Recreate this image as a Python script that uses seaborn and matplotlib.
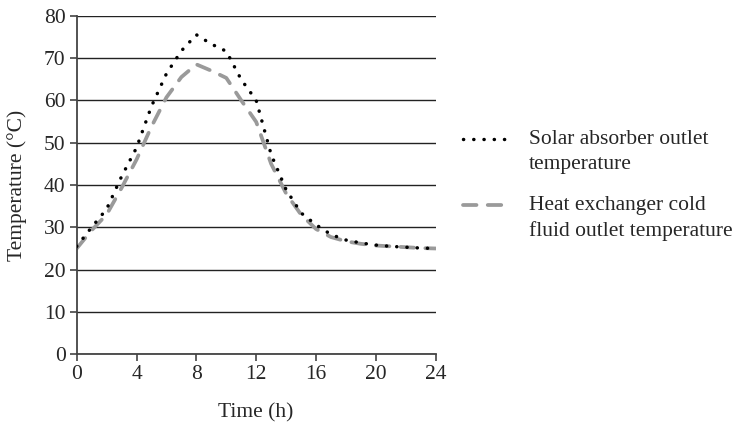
import numpy as np
import pandas as pd
from matplotlib import pyplot as plt
import seaborn as sns

# Время, ч
hours = list(range(0, 25))

# Температура на выходе солнечного абсорбера, °C
absorber_out = [25.5, 30.0, 34.3, 42.0, 48.8, 58.6, 66.3, 71.7, 75.5, 73.3,
                71.6, 64.9, 60.0, 47.2, 38.9, 33.4, 30.6, 28.3, 27.0, 26.3,
                25.8, 25.5, 25.3, 25.1, 25.0]

# Температура холодного теплоносителя на выходе теплообменника, °C
hx_cold_out = [25.0, 29.3, 33.0, 39.3, 46.0, 53.8, 60.7, 65.5, 68.5, 67.0,
               65.3, 60.0, 54.9, 45.0, 38.0, 33.0, 29.6, 27.7, 26.7, 26.1,
               25.7, 25.5, 25.3, 25.1, 25.0]

x_ticks = [0, 4, 8, 12, 16, 20, 24]
y_ticks = [0, 10, 20, 30, 40, 50, 60, 70, 80]

label_abs = 'Solar absorber outlet\ntemperature'
label_hx = 'Heat exchanger cold\nfluid outlet temperature'


def main():
    """Рисуем график"""
    sns.set_style('white')
    plt.rcParams['font.family'] = ['Liberation Serif', 'DejaVu Serif']
    fs = 15.5

    fig = plt.figure(figsize=(7.43, 4.24), dpi=100)
    ax = fig.add_axes([0.1032, 0.1644, 0.4832, 0.7986])

    ds = pd.DataFrame({'Time': hours, 'Abs': absorber_out, 'Hx': hx_cold_out})

    # сетка
    for v in y_ticks:
        ax.axhline(v, color='#222222', lw=1.0, zorder=0)

    sns.lineplot(data=ds, x='Time', y='Abs', ax=ax, color='black',
                 lw=2.5, label=label_abs, zorder=3)
    line_abs = ax.lines[-1]
    line_abs.set_linestyle((0, (0.05, 2.9)))
    line_abs.set_dash_capstyle('round')

    sns.lineplot(data=ds, x='Time', y='Hx', ax=ax, color='#9a9a9a',
                 lw=2.7, label=label_hx, zorder=2)
    line_hx = ax.lines[-1]
    line_hx.set_linestyle((0, (3.6, 3.0)))
    line_hx.set_dash_capstyle('round')

    ax.set_xlim(0, 24)
    ax.set_ylim(0, 80)
    ax.set_xticks(x_ticks)
    ax.set_yticks(y_ticks)
    ax.set_xlabel('Time (h)', fontsize=fs, labelpad=13.5)
    ax.set_ylabel('Temperature (°C)', fontsize=fs, labelpad=12)

    for s in ['top', 'right']:
        ax.spines[s].set_visible(False)
    for s in ['left', 'bottom']:
        ax.spines[s].set_color('#444444')
        ax.spines[s].set_linewidth(1.3)
    ax.tick_params(axis='both', which='both', direction='out', length=5,
                   width=1.2, color='#444444', labelsize=fs, pad=3,
                   left=True, bottom=True)

    ax.get_legend().remove()
    handles, labels = ax.get_legend_handles_labels()
    leg = fig.legend(handles, labels, loc='upper left',
                     bbox_to_anchor=(0.612, 0.713), frameon=False,
                     fontsize=fs, handlelength=2.2, handletextpad=0.85,
                     labelspacing=1.0, borderaxespad=0)
    for t in leg.get_texts():
        t.set_linespacing(1.44)
    # образец линии — напротив первой строки подписи
    for h in leg.legend_handles:
        h.set_ydata(np.asarray(h.get_ydata()) + 9.4)

    fig.savefig('out.png', dpi=100)


if __name__ == '__main__':
    main()
